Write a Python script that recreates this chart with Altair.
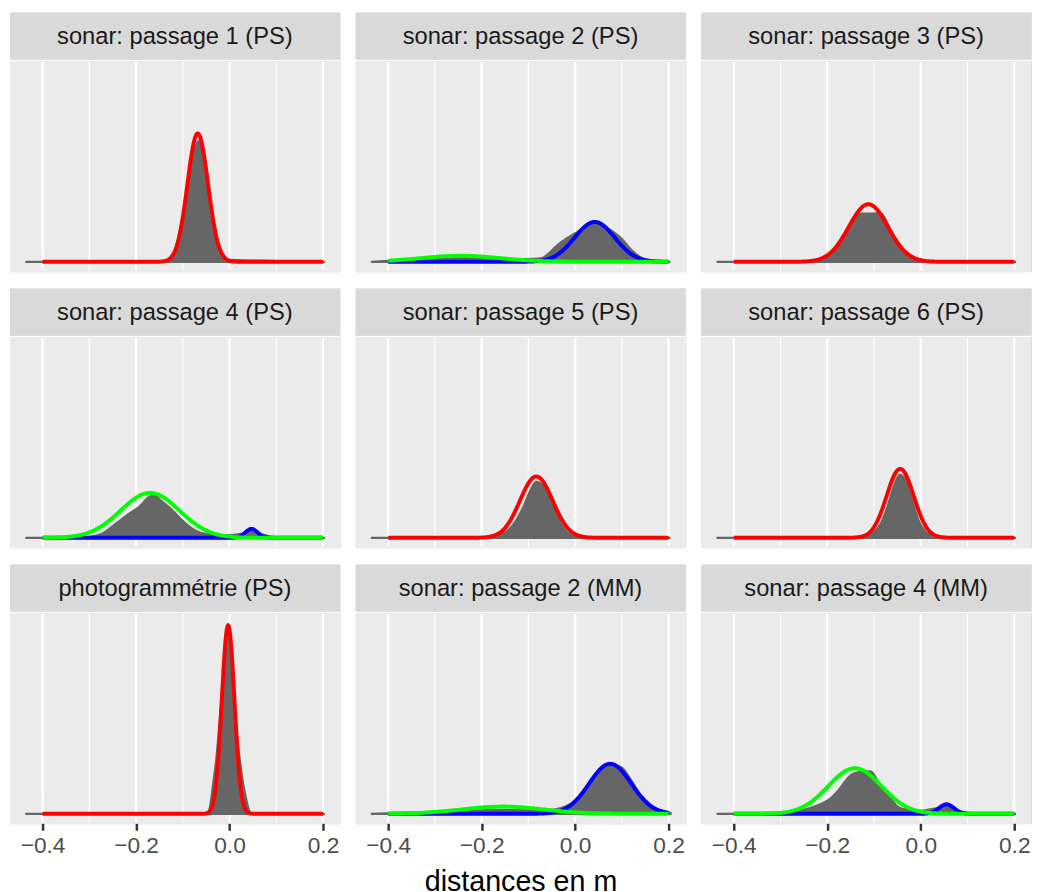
import altair as alt
import pandas as pd

FONT = "Liberation Sans"
W, H, SH = 334, 213, 47
XDOM = [-0.4697, 0.2359]
YDOM = [-1.51, 31.76]

panel_titles = [
    "sonar: passage 1 (PS)", "sonar: passage 2 (PS)", "sonar: passage 3 (PS)",
    "sonar: passage 4 (PS)", "sonar: passage 5 (PS)", "sonar: passage 6 (PS)",
    "photogrammétrie (PS)", "sonar: passage 2 (MM)", "sonar: passage 4 (MM)",
]

# grey kernel-density outlines (x in m, density)
gray_x = [
    [-0.437, -0.145, -0.126, -0.116, -0.105, -0.095, -0.084, -0.074, -0.067, -0.060, -0.049, -0.037, -0.017, 0.0, 0.204],
    [-0.437, -0.40, -0.36, -0.32, -0.28, -0.24, -0.20, -0.16, -0.12, -0.09, -0.07, -0.058, -0.04, -0.02, 0.0, 0.02, 0.041, 0.06, 0.08, 0.10, 0.12, 0.14, 0.16, 0.18, 0.204],
    [-0.437, -0.23, -0.209, -0.188, -0.160, -0.135, -0.111, -0.086, -0.062, -0.037, -0.012, 0.005, 0.03, 0.204],
    [-0.437, -0.32, -0.299, -0.271, -0.242, -0.214, -0.193, -0.172, -0.162, -0.144, -0.123, -0.102, -0.081, -0.060, -0.031, -0.003, 0.025, 0.047, 0.067, 0.088, 0.109, 0.13, 0.204],
    [-0.437, -0.20, -0.17, -0.15, -0.13, -0.11, -0.095, -0.083, -0.07, -0.055, -0.04, -0.025, -0.01, 0.01, 0.03, 0.204],
    [-0.437, -0.15, -0.12, -0.10, -0.085, -0.07, -0.057, -0.045, -0.033, -0.02, -0.005, 0.01, 0.03, 0.05, 0.204],
    [-0.437, -0.0456, -0.042, -0.035, -0.028, -0.020, -0.0114, -0.003, 0.0056, 0.014, 0.025, 0.035, 0.042, 0.047, 0.204],
    [-0.437, -0.38, -0.32, -0.26, -0.20, -0.15, -0.10, -0.06, -0.03, -0.0013, 0.020, 0.041, 0.069, 0.098, 0.119, 0.140, 0.163, 0.184, 0.204],
    [-0.437, -0.32, -0.294, -0.258, -0.223, -0.195, -0.174, -0.153, -0.132, -0.107, -0.090, -0.068, -0.047, -0.026, 0.002, 0.030, 0.055, 0.079, 0.101, 0.122, 0.204],
]
gray_y = [
    [0, 0, 0.6, 1.7, 5.2, 8.8, 13.4, 17.7, 19.1, 18.0, 14.5, 6.9, 1.6, 0.3, 0],
    [0, 0.15, 0.35, 0.5, 0.6, 0.62, 0.55, 0.45, 0.42, 0.45, 0.6, 1.2, 2.5, 3.6, 4.5, 5.4, 5.9, 5.6, 4.8, 3.6, 1.9, 0.7, 0.15, 0.02, 0],
    [0, 0, 0.3, 1.25, 4.0, 7.6, 7.6, 7.7, 4.6, 1.9, 0.6, 0.08, 0, 0],
    [0, 0.02, 0.15, 0.73, 2.3, 3.86, 4.9, 6.45, 6.7, 5.7, 4.4, 2.8, 1.5, 0.73, 0.47, 0.42, 0.63, 0.98, 0.58, 0.2, 0.05, 0, 0],
    [0, 0, 0.2, 0.8, 2.3, 5.0, 7.6, 8.9, 8.4, 6.4, 3.7, 1.6, 0.5, 0.05, 0, 0],
    [0, 0, 0.2, 0.9, 2.3, 5.2, 8.3, 10.0, 9.2, 6.3, 2.8, 1.0, 0.2, 0, 0],
    [0, 0, 0.9, 4.7, 8.8, 15.6, 23.4, 29.1, 23.4, 14.1, 6.7, 2.5, 0.5, 0, 0],
    [0, 0.1, 0.25, 0.4, 0.55, 0.6, 0.55, 0.55, 0.9, 2.0, 3.8, 6.0, 7.8, 7.4, 5.4, 3.0, 1.3, 0.45, 0.15],
    [0, 0.02, 0.15, 0.47, 1.25, 2.3, 3.9, 5.9, 6.6, 6.7, 4.9, 2.8, 1.0, 0.63, 0.47, 0.83, 1.14, 0.47, 0.16, 0.03, 0],
]

# fitted normal components: panel index, colour, mean, sd, peak height
comp_panel = [0, 1, 1, 2, 3, 3, 4, 5, 6, 7, 7, 8, 8]
comp_color = ["#FF0000", "#0000FF", "#00FF00", "#FF0000", "#0000FF", "#00FF00",
              "#FF0000", "#FF0000", "#FF0000", "#0000FF", "#00FF00", "#0000FF", "#00FF00"]
comp_mean = [-0.068, 0.042, -0.245, -0.112, 0.047, -0.170, -0.083, -0.044, -0.003, 0.075, -0.155, 0.055, -0.141]
comp_sd = [0.022, 0.043, 0.085, 0.042, 0.013, 0.063, 0.035, 0.029, 0.0135, 0.045, 0.087, 0.016, 0.057]
comp_peak = [20.3, 6.3, 0.95, 9.1, 1.4, 7.1, 9.7, 10.9, 29.8, 7.9, 1.14, 1.5, 7.2]

major_grid = [-0.4, -0.2, 0.0, 0.2]
minor_grid = [-0.3, -0.1, 0.1]
tick_values = [-0.4, -0.2, 0.0, 0.2]
x_title = "distances en m"

gray_rows = []
for i, (xs, ys) in enumerate(zip(gray_x, gray_y)):
    for xv, yv in zip(xs, ys):
        gray_rows.append({"panel": i, "x": xv, "y": yv})
gray_df = pd.DataFrame(gray_rows)

comp_df = pd.DataFrame({
    "panel": comp_panel, "col": comp_color, "mu": comp_mean,
    "sd": comp_sd, "peak": comp_peak,
})

xscale = alt.Scale(domain=XDOM, nice=False, zero=False)
yscale = alt.Scale(domain=YDOM, nice=False, zero=False)


def strip(i):
    df = pd.DataFrame({"t": [panel_titles[i]]})
    rect = alt.Chart(df).mark_rect(color="#D9D9D9").encode(
        x=alt.value(0), x2=alt.value(W), y=alt.value(0), y2=alt.value(SH))
    txt = alt.Chart(df).mark_text(font=FONT, fontSize=24, color="#1A1A1A",
                                  baseline="middle", align="center").encode(
        x=alt.value(W / 2), y=alt.value(SH / 2 + 1), text="t:N")
    return alt.layer(rect, txt).properties(width=W, height=SH)


def plot(i, row, col):
    if row == 2:
        ax = alt.Axis(values=tick_values, format=".1f", domain=False, grid=False,
                      tickColor="#333333", tickWidth=2.5, tickSize=7,
                      labelColor="#4D4D4D", labelFontSize=23, labelFont=FONT,
                      labelPadding=5, titleFont=FONT, titleFontSize=29,
                      titleFontWeight="normal", titleColor="#000000", titlePadding=10)
        if col == 1:
            X = lambda: alt.X("x:Q", scale=xscale, axis=ax, title=x_title)
        else:
            X = lambda: alt.X("x:Q", scale=xscale, axis=ax, title=None)
    else:
        X = lambda: alt.X("x:Q", scale=xscale, axis=None)
    Y = lambda: alt.Y("y:Q", scale=yscale, axis=None)

    bg = alt.Chart(pd.DataFrame({"a": [0]})).mark_rect(color="#EBEBEB").encode(
        x=alt.value(0), x2=alt.value(W), y=alt.value(0), y2=alt.value(H))
    gmaj = alt.Chart(pd.DataFrame({"x": major_grid})).mark_rule(
        color="white", strokeWidth=2.3).encode(
        x=X(), y=alt.value(1.2), y2=alt.value(H - 1.2))
    gmin = alt.Chart(pd.DataFrame({"x": minor_grid})).mark_rule(
        color="white", strokeWidth=1.2).encode(
        x=X(), y=alt.value(0.6), y2=alt.value(H - 0.6))
    gray = alt.Chart(gray_df[gray_df.panel == i]).mark_area(
        color="#666666", stroke="#666666", strokeWidth=2.3, interpolate="monotone",
        opacity=1).encode(x=X(), y=Y(), y2=alt.datum(0))
    layers = [bg, gmaj, gmin, gray]
    for c in ["#FF0000", "#0000FF", "#00FF00"]:
        sub = comp_df[(comp_df.panel == i) & (comp_df.col == c)]
        if len(sub) == 0:
            continue
        line = alt.Chart(sub).transform_calculate(
            x="sequence(-0.4, 0.2005, 0.001)"
        ).transform_flatten(["x"]).transform_calculate(
            y="datum.peak * exp(-0.5 * pow((datum.x - datum.mu) / datum.sd, 2))"
        ).mark_line(color=c, strokeWidth=4, strokeCap="butt").encode(x=X(), y=Y())
        layers.append(line)
    return alt.layer(*layers).properties(width=W, height=H)


rows = []
for r in range(3):
    cells = []
    for c in range(3):
        i = r * 3 + c
        cells.append(alt.vconcat(strip(i), plot(i, r, c), spacing=0))
    rows.append(alt.hconcat(*cells, spacing=14))

chart = alt.vconcat(*rows, spacing=15.5).properties(
    padding={"left": 1, "top": -2, "right": 0, "bottom": 0}
).configure_view(stroke=None).configure(font=FONT)

chart.save("out.html", embed_options={"renderer": "svg", "actions": False})
